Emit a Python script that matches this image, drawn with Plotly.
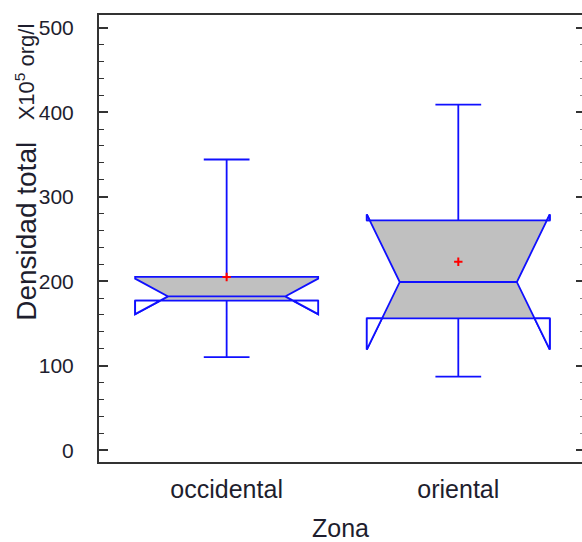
import plotly.graph_objects as go

# ---- data ----
zones = ["occidental", "oriental"]
lower_whisker = [110, 87]
q1 = [177, 156]
median = [182, 199]
q3 = [205, 272]
upper_whisker = [344, 409]
notch_half = [21, 80]
mean = [205, 223]
y_ticks = [0, 100, 200, 300, 400, 500]

BOX_W = 0.79
NOTCH_W = 0.18
BLUE = "#1010ff"
GREY = "#c0c0c0"
AX = "#333333"
TXT = "#1e1e2e"

fig = go.Figure()
pos = list(range(len(zones)))

for i, z in enumerate(zones):
    fig.add_trace(go.Box(
        x=[pos[i]], q1=[q1[i]], median=[median[i]], q3=[q3[i]],
        lowerfence=[lower_whisker[i]], upperfence=[upper_whisker[i]],
        notchspan=[notch_half[i]], notched=True, notchwidth=NOTCH_W,
        width=BOX_W, whiskerwidth=0.25, boxpoints=False,
        fillcolor=GREY, line=dict(color=BLUE, width=1.8),
        name=z, showlegend=False, hoverinfo="skip",
    ))

# flaps where the notch extends beyond the box: drawn unfilled (white)
for i in range(len(zones)):
    hw = BOX_W / 2
    nhw = hw * (1 - 2 * NOTCH_W)
    m = median[i]
    for is_low, edge, tip in ((True, q1[i], median[i] - notch_half[i]),
                              (False, q3[i], median[i] + notch_half[i])):
        beyond = (tip < edge) if is_low else (tip > edge)
        if not beyond:
            continue
        f = (edge - tip) / (m - tip)
        for s in (-1, 1):
            x_edge = pos[i] + s * hw
            x_int = pos[i] + s * (hw - f * (hw - nhw))
            fig.add_trace(go.Scatter(
                x=[x_edge, x_edge, x_int, x_edge], y=[edge, tip, edge, edge],
                mode="lines", fill="toself", fillcolor="white",
                line=dict(color=BLUE, width=1.8), showlegend=False, hoverinfo="skip",
            ))

# means
fig.add_trace(go.Scatter(
    x=pos, y=mean, mode="markers",
    marker=dict(symbol="cross-thin", size=6, line=dict(color="red", width=2)),
    showlegend=False, hoverinfo="skip",
))

# dummy trace to materialise the right-hand tick axis
fig.add_trace(go.Scatter(x=[0], y=[250], yaxis="y2", mode="markers",
                         marker=dict(size=1, opacity=0), showlegend=False, hoverinfo="skip"))

yr = [-14, 515]
fig.update_layout(
    width=582, height=542,
    margin=dict(l=99, r=0, t=15, b=80),
    paper_bgcolor="white", plot_bgcolor="white",
    font=dict(family="Arial, Liberation Sans, sans-serif", color=TXT),
    xaxis=dict(
        range=[-0.551, 1.534], tickvals=pos, ticktext=zones,
        showgrid=False, zeroline=False, showline=True, linecolor=AX, linewidth=2,
        mirror=True, ticks="", tickfont=dict(size=25, color=TXT), ticklabelstandoff=4,
        title=dict(text="Zona", font=dict(size=25, color=TXT), standoff=17),
    ),
    yaxis=dict(
        range=yr, tickvals=y_ticks, showgrid=False, zeroline=False,
        showline=True, linecolor=AX, linewidth=2, mirror=False,
        ticks="inside", ticklen=9, tickwidth=1.5, tickcolor=AX,
        minor=dict(dtick=20, ticks="inside", ticklen=5, tickwidth=1, tickcolor=AX),
        tickfont=dict(size=21, color=TXT), ticklabelstandoff=19,
    ),
    yaxis2=dict(
        range=yr, overlaying="y", side="right", tickvals=y_ticks,
        showgrid=False, zeroline=False, showline=False, showticklabels=False,
        ticks="inside", ticklen=6, tickwidth=1.5, tickcolor=AX,
        minor=dict(dtick=20, ticks="inside", ticklen=2, tickwidth=1, tickcolor="#888888"),
    ),
    annotations=[
        dict(text="Densidad total", xref="paper", yref="paper", x=-0.149, y=0.515,
             xanchor="center", yanchor="middle", textangle=-90, showarrow=False,
             font=dict(size=28, color=TXT)),
        dict(text="X10<sup>5</sup> org/l", xref="paper", yref="paper", x=-0.153, y=0.872,
             xanchor="center", yanchor="middle", textangle=-90, showarrow=False,
             font=dict(size=22, color=TXT)),
    ],
)

fig.write_html("out.html")
